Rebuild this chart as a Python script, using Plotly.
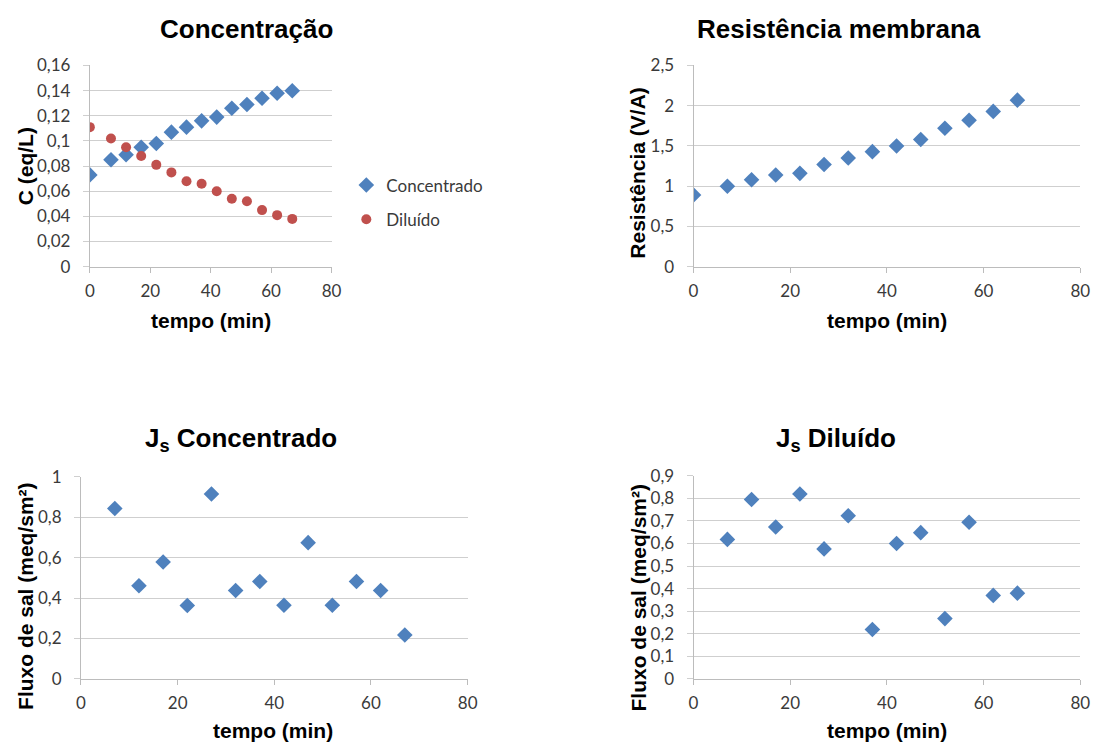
import plotly.graph_objects as go

# Sampling times (min)
tempo = [0, 7, 12, 17, 22, 27, 32, 37, 42, 47, 52, 57, 62, 67]
tempo_js = tempo[1:]

# Concentration (eq/L)
conc_concentrado = [0.073, 0.085, 0.089, 0.095, 0.098, 0.107, 0.111, 0.116, 0.119, 0.126, 0.129, 0.134, 0.138, 0.140]
conc_diluido = [0.111, 0.102, 0.095, 0.088, 0.081, 0.075, 0.068, 0.066, 0.060, 0.054, 0.052, 0.045, 0.041, 0.038]

# Membrane resistance (V/A)
resistencia = [0.89, 1.00, 1.08, 1.14, 1.16, 1.27, 1.35, 1.43, 1.50, 1.58, 1.72, 1.82, 1.93, 2.07]

# Salt flux (meq/s m2)
js_concentrado = [0.843, 0.461, 0.578, 0.363, 0.915, 0.437, 0.482, 0.364, 0.674, 0.364, 0.482, 0.437, 0.217]
js_diluido = [0.618, 0.795, 0.673, 0.819, 0.576, 0.723, 0.219, 0.600, 0.648, 0.267, 0.694, 0.370, 0.380]

titulos = ["Concentração", "Resistência membrana", "J<sub>s</sub> Concentrado", "J<sub>s</sub> Diluído"]
titulos_y = ["C (eq/L)", "Resistência (V/A)", "Fluxo de sal (meq/sm²)", "Fluxo de sal (meq/sm²)"]
titulo_x = "tempo (min)"
nomes_series = ["Concentrado", "Diluído"]

W, H = 1108, 754
AZUL = "#4F81BD"
VERMELHO = "#C0504D"
GRADE = "#cfcfcf"
EIXO = "#bcbcbc"
TEXTO = "#3a3a3a"
FONTE_TICK = "Lato"
FONTE_TITULO = "Liberation Sans"
TAM_TICK = 17


def px_x(p):
    return p / W


def px_y(p):
    return 1 - p / H


# plot areas in pixels: (left, right, top, bottom)
areas = [
    (86, 331, 56, 263),
    (698, 1090, 56, 263),
    (77, 469, 479, 687),
    (698, 1090, 478, 687),
]
y_ranges = [(0, 0.16, 0.02), (0, 2.5, 0.5), (0, 1.0, 0.2), (0, 0.9, 0.1)]

fig = go.Figure()

fig.add_trace(go.Scatter(
    x=tempo, y=conc_concentrado, mode="markers", name=nomes_series[0],
    marker=dict(symbol="diamond", size=12, color=AZUL, line=dict(width=0)),
    xaxis="x", yaxis="y", legendgroup="a"))
fig.add_trace(go.Scatter(
    x=tempo, y=conc_diluido, mode="markers", name=nomes_series[1],
    marker=dict(symbol="circle", size=10, color=VERMELHO, line=dict(width=0)),
    xaxis="x", yaxis="y", legendgroup="b"))
fig.add_trace(go.Scatter(
    x=tempo, y=resistencia, mode="markers", showlegend=False,
    marker=dict(symbol="diamond", size=12, color=AZUL, line=dict(width=0)),
    xaxis="x2", yaxis="y2"))
fig.add_trace(go.Scatter(
    x=tempo_js, y=js_concentrado, mode="markers", showlegend=False,
    marker=dict(symbol="diamond", size=12, color=AZUL, line=dict(width=0)),
    xaxis="x3", yaxis="y3"))
fig.add_trace(go.Scatter(
    x=tempo_js, y=js_diluido, mode="markers", showlegend=False,
    marker=dict(symbol="diamond", size=12, color=AZUL, line=dict(width=0)),
    xaxis="x4", yaxis="y4"))

layout = dict(
    width=W, height=H,
    margin=dict(l=0, r=0, t=0, b=0),
    paper_bgcolor="white", plot_bgcolor="white",
    separators=",.",
    font=dict(family=FONTE_TICK, size=TAM_TICK, color=TEXTO),
    legend=dict(x=px_x(346), y=px_y(161), xanchor="left", yanchor="top",
                font=dict(family=FONTE_TICK, size=TAM_TICK, color=TEXTO),
                tracegroupgap=9, bgcolor="rgba(0,0,0,0)"),
    annotations=[],
)

for i, ((l, r, t, b), (y0, y1, dy)) in enumerate(zip(areas, y_ranges)):
    sx = "" if i == 0 else str(i + 1)
    layout["xaxis" + sx] = dict(
        domain=[px_x(l), px_x(r)], anchor="y" + sx, range=[0, 80.001], dtick=20, tick0=0,
        showgrid=False, zeroline=False, showline=True, linecolor=EIXO, linewidth=1,
        ticks="outside", ticklen=5, tickcolor=EIXO, ticklabelstandoff=4,
        tickfont=dict(family=FONTE_TICK, size=TAM_TICK, color=TEXTO), fixedrange=True)
    layout["yaxis" + sx] = dict(
        domain=[px_y(b), px_y(t)], anchor="x" + sx, range=[y0, y1 * 1.0005], dtick=dy, tick0=0,
        showgrid=True, gridcolor=GRADE, gridwidth=1, zeroline=False,
        showline=True, linecolor=EIXO, linewidth=1,
        ticks="outside", ticklen=6, tickcolor=GRADE, ticklabelstandoff=9,
        tickfont=dict(family=FONTE_TICK, size=TAM_TICK, color=TEXTO), fixedrange=True)

# chart titles
for txt, (cx, cy) in zip(titulos, [(245, 19), (845, 19), (239, 441), (842, 441)]):
    layout["annotations"].append(dict(
        text="<b>%s</b>" % txt, x=px_x(cx), y=px_y(cy), xref="paper", yref="paper",
        xanchor="center", yanchor="middle", showarrow=False,
        font=dict(family=FONTE_TITULO, size=26, color="black")))

# x-axis titles
for cx, cy in [(209, 318), (894, 318), (272, 740), (894, 740)]:
    layout["annotations"].append(dict(
        text="<b>%s</b>" % titulo_x, x=px_x(cx), y=px_y(cy), xref="paper", yref="paper",
        xanchor="center", yanchor="middle", showarrow=False,
        font=dict(family=FONTE_TITULO, size=21, color="black")))

# y-axis titles
for txt, (cx, cy) in zip(titulos_y, [(21, 160), (641, 166), (21, 602), (642, 603)]):
    layout["annotations"].append(dict(
        text="<b>%s</b>" % txt, x=px_x(cx), y=px_y(cy), xref="paper", yref="paper",
        xanchor="center", yanchor="middle", textangle=-90, showarrow=False,
        font=dict(family=FONTE_TITULO, size=21, color="black")))

fig.update_layout(layout)
fig.write_html("out.html")
